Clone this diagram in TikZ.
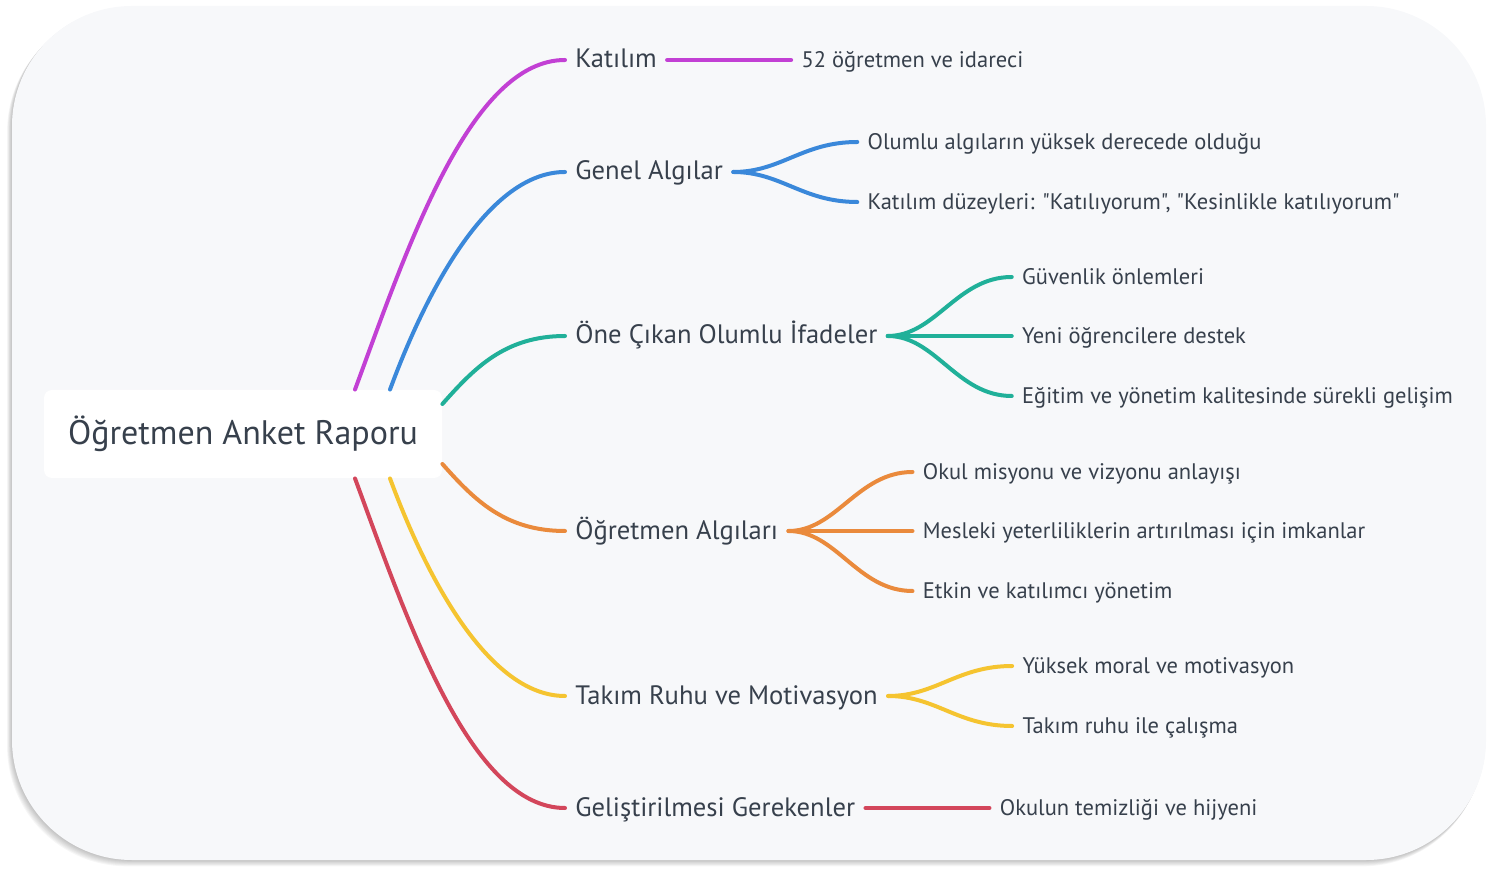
\documentclass[tikz,border=0pt]{standalone}
\usepackage{fontspec}
\setmainfont{PT Sans}[Ligatures=TeXOff]
\usepackage{tikz}
\usetikzlibrary{positioning}
\definecolor{panel}{HTML}{F7F8FA}
\definecolor{ink}{HTML}{37404C}
\definecolor{cpurple}{HTML}{C240D4}
\definecolor{cblue}{HTML}{3A88DA}
\definecolor{cteal}{HTML}{20B099}
\definecolor{corange}{HTML}{EA8A3C}
\definecolor{cyellow}{HTML}{F5C430}
\definecolor{cred}{HTML}{D3465B}

\begin{document}
\begin{tikzpicture}[x=0.5pt, y=-0.5pt]
  \tikzstyle{root}=[rectangle, rounded corners=4pt, fill=white, minimum width=199pt,
                    minimum height=44pt, font=\fontsize{17}{20}\selectfont, text=ink]
  \tikzstyle{lvone}=[anchor=west, inner xsep=5pt, text height=1.9ex, text depth=.3ex,
                     font=\fontsize{13.3}{16}\selectfont, text=ink]
  \tikzstyle{lvtwo}=[anchor=west, inner xsep=5pt, text height=1.75ex, text depth=.3ex,
                     font=\fontsize{11.25}{13}\selectfont, text=ink]
  \tikzstyle{lnk}=[line width=2pt, line cap=round]
  \useasboundingbox (0,0) rectangle (1497,870);
  % panel with soft shadow
  \foreach \i in {1,...,7}
    \fill[black, opacity=0.035, rounded corners=60pt]
      ({12-0.7*\i},{6+0.8*\i}) rectangle ({1486-0.5*\i},{860+0.9*\i});
  \fill[panel, rounded corners=60pt] (12,6) rectangle (1486,860);

  \node[root](rt) at (243,434){Öğretmen Anket Raporu};

  \node[lvone](k1) at (565,60){Katılım};
  \node[lvone](k2) at (565,172){Genel Algılar};
  \node[lvone](k3) at (565,336){Öne Çıkan Olumlu İfadeler};
  \node[lvone](k4) at (565,531){Öğretmen Algıları};
  \node[lvone](k5) at (565,696){Takım Ruhu ve Motivasyon};
  \node[lvone](k6) at (565,808){Geliştirilmesi Gerekenler};

  \draw[lnk, cpurple]([xshift=56pt]rt.north) .. controls +(52,-141) and +(-95,0) .. (k1.west);
  \draw[lnk, cblue]([xshift=73.5pt]rt.north) .. controls +(38,-103) and +(-75,0) .. (k2.west);
  \draw[lnk, cteal]([yshift=15pt]rt.east) .. controls +(32,-36) and +(-60,0) .. (k3.west);
  \draw[lnk, corange]([yshift=-15pt]rt.east) .. controls +(32,36) and +(-60,0) .. (k4.west);
  \draw[lnk, cyellow]([xshift=73.5pt]rt.south) .. controls +(38,103) and +(-75,0) .. (k5.west);
  \draw[lnk, cred]([xshift=56pt]rt.south) .. controls +(52,141) and +(-95,0) .. (k6.west);

  % leaves
  \node[lvtwo, right=62pt of k1](a1){52 öğretmen ve idareci};
  \node[lvtwo](b1) at ([xshift=62pt, yshift=15pt]k2.east){Olumlu algıların yüksek derecede olduğu};
  \node[lvtwo](b2) at ([xshift=62pt, yshift=-15pt]k2.east){Katılım düzeyleri: "Katılıyorum", "Kesinlikle katılıyorum"};
  \node[lvtwo](c1) at ([xshift=62pt, yshift=29.5pt]k3.east){Güvenlik önlemleri};
  \node[lvtwo, right=62pt of k3](c2){Yeni öğrencilere destek};
  \node[lvtwo](c3) at ([xshift=62pt, yshift=-30pt]k3.east){Eğitim ve yönetim kalitesinde sürekli gelişim};
  \node[lvtwo](d1) at ([xshift=62pt, yshift=29.5pt]k4.east){Okul misyonu ve vizyonu anlayışı};
  \node[lvtwo, right=62pt of k4](d2){Mesleki yeterliliklerin artırılması için imkanlar};
  \node[lvtwo](d3) at ([xshift=62pt, yshift=-30pt]k4.east){Etkin ve katılımcı yönetim};
  \node[lvtwo](e1) at ([xshift=62pt, yshift=15pt]k5.east){Yüksek moral ve motivasyon};
  \node[lvtwo](e2) at ([xshift=62pt, yshift=-15pt]k5.east){Takım ruhu ile çalışma};
  \node[lvtwo, right=62pt of k6](f1){Okulun temizliği ve hijyeni};

  \draw[lnk, cpurple](k1.east)--(a1.west);
  \draw[lnk, cblue](k2.east) .. controls +(48,0) and +(-55,0) .. (b1.west);
  \draw[lnk, cblue](k2.east) .. controls +(48,0) and +(-55,0) .. (b2.west);
  \draw[lnk, cteal](k3.east) .. controls +(48,0) and +(-55,0) .. (c1.west);
  \draw[lnk, cteal](k3.east)--(c2.west);
  \draw[lnk, cteal](k3.east) .. controls +(48,0) and +(-55,0) .. (c3.west);
  \draw[lnk, corange](k4.east) .. controls +(48,0) and +(-55,0) .. (d1.west);
  \draw[lnk, corange](k4.east)--(d2.west);
  \draw[lnk, corange](k4.east) .. controls +(48,0) and +(-55,0) .. (d3.west);
  \draw[lnk, cyellow](k5.east) .. controls +(48,0) and +(-55,0) .. (e1.west);
  \draw[lnk, cyellow](k5.east) .. controls +(48,0) and +(-55,0) .. (e2.west);
  \draw[lnk, cred](k6.east)--(f1.west);
\end{tikzpicture}
\end{document}
